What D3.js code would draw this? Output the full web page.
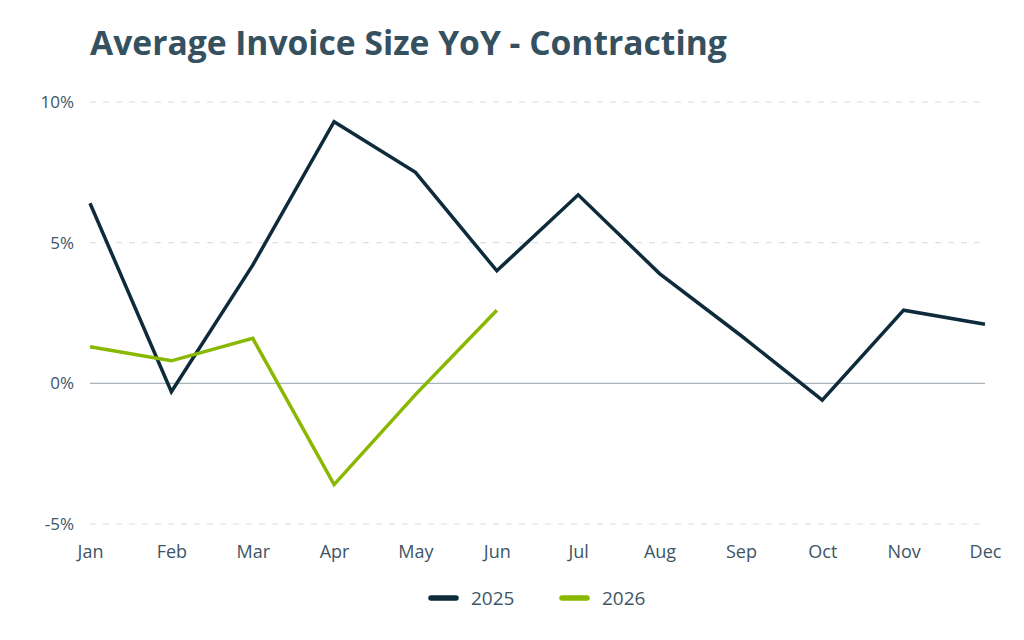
<!DOCTYPE html>
<html>
<head>
<meta charset="utf-8">
<script src="https://cdn.jsdelivr.net/npm/d3@7"></script>
<style>
  body { margin: 0; background: #fff; }
  text { font-family: "Open Sans", "Noto Sans", sans-serif; }
</style>
</head>
<body>
<div id="chart"></div>
<script>
// données
const mois = ["Jan", "Feb", "Mar", "Apr", "May", "Jun", "Jul", "Aug", "Sep", "Oct", "Nov", "Dec"];
const serie2025 = [6.4, -0.3, 4.2, 9.3, 7.5, 4.0, 6.7, 3.9, 1.7, -0.6, 2.6, 2.1];
const serie2026 = [1.3, 0.8, 1.6, -3.6, -0.4, 2.6];
const ticksY = [-5, 0, 5, 10];
const annees = ["2025", "2026"];
const couleurs = ["#0d2b3a", "#88b800"];

const W = 1024, H = 640;
const svg = d3.select("#chart").append("svg")
    .attr("width", W).attr("height", H);

const x = d3.scalePoint().domain(mois).range([90, 985]);
const y = d3.scaleLinear().domain([-5, 10]).range([524, 102]);

// titre
const titre = svg.append("text")
    .attr("x", 90).attr("y", 55)
    .attr("font-size", 32).attr("font-weight", 700)
    .attr("fill", "#35505f")
    .text("Average Invoice Size YoY - Contracting");
// ajuste la taille pour avoir la même largeur que l'original
const larg = titre.node().getComputedTextLength();
titre.attr("font-size", 32 * 637 / larg);

// grille
const grille = svg.append("g");
grille.selectAll("line").data(ticksY.filter(d => d !== 0)).join("line")
    .attr("x1", 90).attr("x2", 985)
    .attr("y1", d => y(d)).attr("y2", d => y(d))
    .attr("stroke", "#d9e0e6").attr("stroke-width", 1.2)
    .attr("stroke-dasharray", "6,7");
grille.append("line")
    .attr("x1", 90).attr("x2", 985)
    .attr("y1", y(0)).attr("y2", y(0))
    .attr("stroke", "#a9b4bb").attr("stroke-width", 1.3);

// axe Y
const axeY = svg.append("g")
    .attr("transform", "translate(74,0)")
    .call(d3.axisLeft(y).tickValues(ticksY).tickSize(0).tickPadding(0).tickFormat(d => d + "%"));
axeY.select(".domain").remove();
axeY.selectAll("text")
    .attr("font-size", 17).attr("fill", "#3d5566")
    .style("font-family", '"Open Sans", sans-serif');

// axe X
const axeX = svg.append("g")
    .attr("transform", "translate(0,545)")
    .call(d3.axisBottom(x).tickSize(0).tickPadding(0));
axeX.select(".domain").remove();
axeX.selectAll("text")
    .attr("font-size", 18).attr("fill", "#3d5566")
    .style("font-family", '"Open Sans", sans-serif');

// lignes
const ligne = d3.line()
    .x((d, i) => x(mois[i]))
    .y(d => y(d));

[serie2025, serie2026].forEach((s, k) => {
    svg.append("path")
        .datum(s)
        .attr("d", ligne)
        .attr("fill", "none")
        .attr("stroke", couleurs[k])
        .attr("stroke-width", 3.5)
        .attr("stroke-linejoin", "miter");
});

// légende
const legende = svg.append("g");
const posLeg = [429, 560];
annees.forEach((a, k) => {
    legende.append("line")
        .attr("x1", posLeg[k] + 2).attr("x2", posLeg[k] + 27)
        .attr("y1", 598).attr("y2", 598)
        .attr("stroke", couleurs[k]).attr("stroke-width", 5.5)
        .attr("stroke-linecap", "round");
    legende.append("text")
        .attr("x", posLeg[k] + 42).attr("y", 605)
        .attr("font-size", 19).attr("fill", "#3d5566")
        .text(a);
});
</script>
</body>
</html>
